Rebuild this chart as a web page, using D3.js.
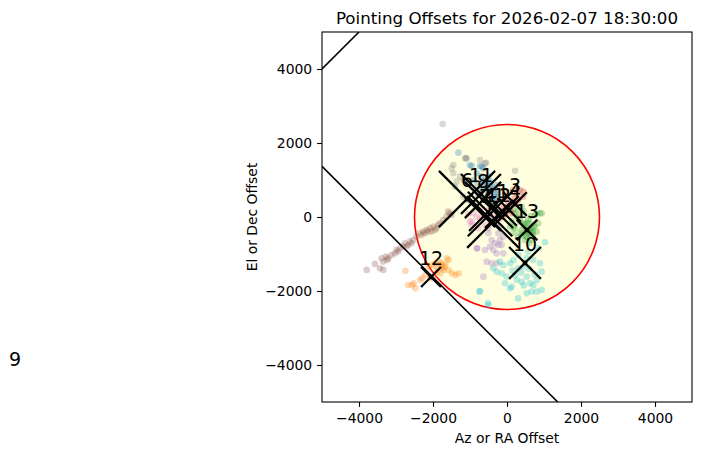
<!DOCTYPE html>
<html>
<head>
<meta charset="utf-8">
<script src="https://cdn.jsdelivr.net/npm/d3@7"></script>
<style>
  body { margin: 0; background: #fff; }
  text { font-family: "DejaVu Sans", sans-serif; }
</style>
</head>
<body>
<div id="chart"></div>
<script>
// Scan number for every pointing group, its mean offset and spread.
const scans = [1, 2, 3, 4, 5, 6, 7, 8, 9, 10, 11, 12, 13, 14];
const meanAz = [-216, -54, 216, -459, -378, -1081, -595, -649, -13299, 486, -703, -2054, 540, 54];
const meanEl = [81, 81, 351, 81, -135, 486, 54, 459, -4352, -1243, 622, -1622, -351, 189];
const spread = [380, 320, 320, 600, 700, 760, 430, 490, 270, 430, 540, 270, 280, 320];

// Individual offsets per scan [az, el]
const offsets1 = [[-459,820],[-369,729],[-279,865],[-504,639],[-414,504],[-549,910],[-640,729],[-234,639],[-324,549],[-369,414],[-550,550],[-324,640]];
const offsets2 = [];
const offsets3 = [[171,189],[261,9],[576,-81],[892,99],[757,54],[306,189],[396,279],[126,-126],[352,9],[802,99],[937,99],[450,150],[200,100],[650,20]];
const offsets4 = [[-144,144],[-99,234],[-9,279],[81,189],[-234,54],[-54,99],[36,414],[-189,-36],[126,99],[-99,9]];
const offsets5 = [[-504,-441],[-414,-621],[-324,-711],[-234,-756],[-144,-756],[-459,-801],[-594,-892],[-369,-892],[-279,-982],[-99,-982],[-549,-1207],[-414,-1252],[-279,-1252],[-819,-847],[-639,-1612],[-189,-621],[-99,-531],[-802,-847],[-369,-81],[-189,-262],[-234,-442],[-500,-300],[-300,-200]];
const offsets6 = [[-3794,-1430],[-3569,-1268],[-3434,-1385],[-3344,-1430],[-3389,-1115],[-3272,-1070],[-3236,-1160],[-3344,-1205],[-3029,-980],[-2984,-890],[-2894,-845],[-2804,-800],[-2759,-710],[-2669,-755],[-2624,-665],[-2534,-620],[-2444,-530],[-2354,-440],[-2264,-395],[-2174,-350],[-2084,-305],[-1994,-260],[-1949,-350],[-1859,-215],[-1814,-170],[-1724,-80],[-1634,10],[-1544,100],[-1589,145],[-1499,55],[-2309,-485],[-2219,-440],[-2129,-395],[-2039,-395],[-1904,-305],[-2579,-710],[-2714,-800],[-2939,-935],[-3119,-1025],[-3209,-1115]];
const offsets7 = [[-910,99],[-820,9],[-955,-126],[-730,189],[-504,189],[-640,9],[-369,9],[-1000,-126],[-730,-36],[-595,-216],[-775,-307],[-1045,81],[-955,-216]];
const offsets8 = [[-1450,1405],[-1495,1315],[-1135,1585],[-1090,1585],[-1450,1180],[-1270,1090],[-1360,955],[-1405,820],[-594,1450],[-730,1540],[-1180,550],[-1045,459],[-910,369],[-1739,2514],[216,1252],[-1108,1585],[-567,1468],[-1180,1000],[-1090,955]];
const offsets9 = [];
const offsets10 = [[1028,-684],[847,-847],[577,-937],[307,-1027],[172,-1162],[82,-1252],[-99,-1297],[-279,-1477],[-144,-1522],[-9,-1612],[-54,-1793],[127,-1883],[262,-1703],[397,-1748],[532,-1612],[622,-1793],[712,-1838],[802,-1703],[937,-1477],[892,-1252],[712,-1162],[532,-1117],[442,-1342],[307,-1387],[667,-2018],[532,-2063],[802,-2018],[937,-1973],[-729,-2000],[-504,-2378],[82,-1928],[217,-1567],[-189,-1207],[-369,-1387],[-514,-2325],[-748,-2018],[380,-1500],[600,-1400],[750,-1550],[150,-1450],[450,-1850],[300,-2200]];
const offsets11 = [[-1315,1739],[-1000,1405],[-730,1378],[-640,1315],[-820,1180],[-504,1090],[-594,910],[-685,775],[-414,820],[-865,730],[-775,595],[-955,1378],[-685,1360],[-600,1000],[-700,1100],[-450,950],[-500,750],[-800,900],[-900,1000]];
const offsets12 = [[-2748,-1459],[-2676,-1838],[-2568,-1838],[-2477,-1928],[-2522,-1793],[-2342,-1702],[-2297,-1657],[-2207,-1567],[-2117,-1342],[-2027,-1297],[-1937,-1252],[-1847,-1207],[-1756,-1252],[-1666,-1297],[-1576,-1432],[-1486,-1522],[-1396,-1567],[-1306,-1522],[-1711,-1432],[-1801,-1522],[-1892,-1477],[-1982,-1612],[-2072,-1657],[-1576,-1162],[-1621,-1117],[-1756,-1387],[-1900,-1350],[-1700,-1350],[-1800,-1300]];
const offsets13 = [[351,-126],[441,-171],[712,-261],[622,-441],[802,-396],[531,-531],[351,-441],[216,-306],[847,-171],[667,-622],[486,-622],[171,-441],[81,-261],[622,-171],[532,-532],[667,-397],[171,-262],[560,-300],[400,-350],[700,-500],[600,-700],[300,-550],[450,-250],[500,-400],[580,-450],[650,-300],[750,-250],[480,-200],[550,-150],[620,-350],[700,-400],[400,-500]];
const offsets14 = [[171,369],[351,729],[261,639],[441,549],[200,500],[300,450],[-54,685],[442,685],[171,730]];

// Limit lines [az, el] endpoints
const limitA = [[-5000, 4000], [-4000, 5000]];
const limitB = [[-5000, 1370], [1370, -5000]];
const beamRadius = 2500;

const xTicks = [-4000, -2000, 0, 2000, 4000];
const yTicks = [-4000, -2000, 0, 2000, 4000];

const tab10 = ["#1f77b4","#ff7f0e","#2ca02c","#d62728","#9467bd","#8c564b","#e377c2","#7f7f7f","#bcbd22","#17becf"];
const allOffsets = [offsets1, offsets2, offsets3, offsets4, offsets5, offsets6, offsets7,
                    offsets8, offsets9, offsets10, offsets11, offsets12, offsets13, offsets14];

const W = 705, H = 455;
const margin = { top: 32, right: 13, bottom: 53, left: 322 };

const x = d3.scaleLinear().domain([-5000, 5000]).range([margin.left, W - margin.right]);
const y = d3.scaleLinear().domain([-5000, 5000]).range([H - margin.bottom, margin.top]);

const svg = d3.select("#chart").append("svg")
    .attr("width", W)
    .attr("height", H);

svg.append("clipPath").attr("id", "clip")
  .append("rect")
    .attr("x", x(-5000)).attr("y", y(5000))
    .attr("width", x(5000) - x(-5000)).attr("height", y(-5000) - y(5000));

const plot = svg.append("g").attr("clip-path", "url(#clip)");

// beam circle
plot.append("circle")
    .attr("cx", x(0)).attr("cy", y(0))
    .attr("r", x(beamRadius) - x(0))
    .attr("fill", "#ffffe0")
    .attr("stroke", "red")
    .attr("stroke-width", 1.6);

// scatter of offsets
const pts = [];
allOffsets.forEach((arr, i) => arr.forEach(p => pts.push({ az: p[0], el: p[1], c: tab10[(scans[i] - 1) % 10] })));

plot.append("g")
  .selectAll("circle")
  .data(pts)
  .join("circle")
    .attr("cx", d => x(d.az))
    .attr("cy", d => y(d.el))
    .attr("r", 3.3)
    .attr("fill", d => d.c)
    .attr("fill-opacity", 0.3);

// limit lines
const line = d3.line().x(d => x(d[0])).y(d => y(d[1]));
[limitA, limitB].forEach(l => {
  plot.append("path")
      .attr("d", line(l))
      .attr("fill", "none")
      .attr("stroke", "black")
      .attr("stroke-width", 1.6);
});

// mean markers
const means = scans.map((s, i) => ({ s, az: meanAz[i], el: meanEl[i], sp: spread[i] }));
const mk = plot.append("g").attr("stroke", "black").attr("stroke-width", 2.2);
means.forEach(d => {
  mk.append("line")
      .attr("x1", x(d.az - d.sp)).attr("y1", y(d.el - d.sp))
      .attr("x2", x(d.az + d.sp)).attr("y2", y(d.el + d.sp));
  mk.append("line")
      .attr("x1", x(d.az - d.sp)).attr("y1", y(d.el + d.sp))
      .attr("x2", x(d.az + d.sp)).attr("y2", y(d.el - d.sp));
  mk.append("circle")
      .attr("cx", x(d.az)).attr("cy", y(d.el))
      .attr("r", 2.4).attr("fill", "black").attr("stroke", "none");
});

// scan labels (not clipped)
svg.append("g")
  .selectAll("text")
  .data(means)
  .join("text")
    .attr("x", d => x(d.az))
    .attr("y", d => y(d.el) - 12)
    .attr("text-anchor", "middle")
    .attr("font-size", "19px")
    .attr("fill", "black")
    .text(d => d.s);

// axes
const fmt = d3.format("d");
const gx = svg.append("g")
    .attr("transform", `translate(0,${y(-5000)})`)
    .call(d3.axisBottom(x).tickValues(xTicks).tickFormat(fmt).tickSize(4.9).tickPadding(6));
const gy = svg.append("g")
    .attr("transform", `translate(${x(-5000)},0)`)
    .call(d3.axisLeft(y).tickValues(yTicks).tickFormat(fmt).tickSize(4.9).tickPadding(4.9));
[gx, gy].forEach(g => {
  g.select(".domain").remove();
  g.selectAll("line").attr("stroke", "black").attr("stroke-width", 1.1);
  g.selectAll("text").attr("font-size", "13.9px").attr("fill", "black")
    .style("font-family", '"DejaVu Sans", sans-serif');
});

// frame
svg.append("rect")
    .attr("x", x(-5000)).attr("y", y(5000))
    .attr("width", x(5000) - x(-5000)).attr("height", y(-5000) - y(5000))
    .attr("fill", "none").attr("stroke", "black").attr("stroke-width", 1.1);

// titles
svg.append("text")
    .attr("x", x(0)).attr("y", 24)
    .attr("text-anchor", "middle")
    .attr("font-size", "16.7px")
    .text("Pointing Offsets for 2026-02-07 18:30:00");

svg.append("text")
    .attr("x", x(0)).attr("y", 443)
    .attr("text-anchor", "middle")
    .attr("font-size", "13.9px")
    .text("Az or RA Offset");

svg.append("text")
    .attr("transform", `translate(257,${y(0)}) rotate(-90)`)
    .attr("text-anchor", "middle")
    .attr("font-size", "13.9px")
    .text("El or Dec Offset");
</script>
</body>
</html>
